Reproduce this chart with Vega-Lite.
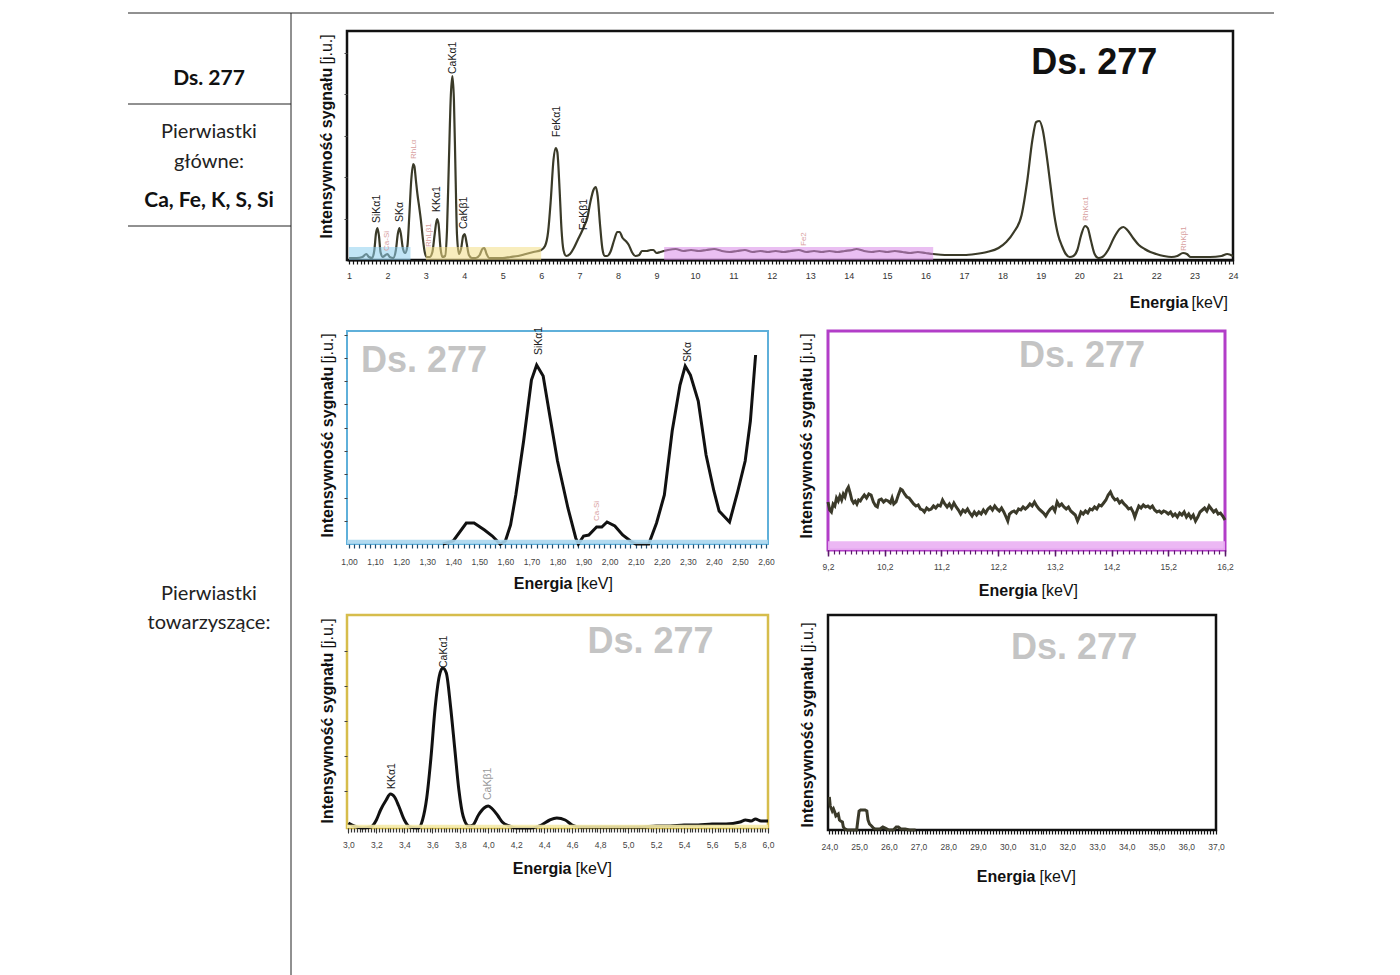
{
"$schema": "https://vega.github.io/schema/vega-lite/v6.json",
"padding": {"left": 127, "top": 12, "right": 0, "bottom": 0},
"background": "white",
"config": {"view": {"stroke": null}, "font": "Liberation Sans", "axis": {"grid": false}},
"bounds": "flush",
"spacing": 60,
"datasets": {
"tlines": [{"x1":127,"x2":1273,"y1":12,"y2":12},{"x1":127,"x2":290,"y1":103,"y2":103},{"x1":127,"x2":290,"y1":225,"y2":225},{"x1":290,"x2":290,"y1":12,"y2":975}],
"ttext": [{"x":208,"y":78,"t":"Ds. 277","role":"head"},{"x":208,"y":131,"t":"Pierwiastki","role":"body"},{"x":208,"y":161,"t":"główne:","role":"body"},{"x":208,"y":200,"t":"Ca, Fe, K, S, Si","role":"head"},{"x":208,"y":593,"t":"Pierwiastki","role":"body"},{"x":208,"y":622,"t":"towarzyszące:","role":"body"}],
"bands": [{"panel":"top","band":"blue","e0":1.0,"e1":2.6,"i0":0,"i1":13},{"panel":"top","band":"yellow","e0":3.0,"e1":6.0,"i0":0,"i1":13},{"panel":"top","band":"purple","e0":9.2,"e1":16.2,"i0":0,"i1":13},{"panel":"blue","band":"blue","e0":0.9924,"e1":2.6076,"i0":0,"i1":4.3},{"panel":"purple","band":"purple","e0":9.2,"e1":16.2,"i0":0,"i1":8.7},{"panel":"yellow","band":"yellow","e0":2.99,"e1":6.0,"i0":0,"i1":3.3},{"panel":"black","band":"none","e0":24,"e1":37,"i0":0,"i1":0}],
"labels": [{"panel":"top","e":1.73,"i":37,"t":"SiKα1","c":"k"},{"panel":"top","e":1.98,"i":9,"t":"Ca-Si","c":"p"},{"panel":"top","e":2.33,"i":38,"t":"SKα","c":"k"},{"panel":"top","e":2.69,"i":101,"t":"RhLα","c":"p"},{"panel":"top","e":3.08,"i":13,"t":"RhLβ1","c":"p"},{"panel":"top","e":3.29,"i":48,"t":"KKα1","c":"k"},{"panel":"top","e":3.71,"i":186,"t":"CaKα1","c":"k"},{"panel":"top","e":4.0,"i":31,"t":"CaKβ1","c":"k"},{"panel":"top","e":6.41,"i":123,"t":"FeKα1","c":"k"},{"panel":"top","e":7.11,"i":30,"t":"FeKβ1","c":"k"},{"panel":"top","e":12.84,"i":14,"t":"Fe2","c":"p"},{"panel":"top","e":20.18,"i":39,"t":"RhKα1","c":"p"},{"panel":"top","e":22.73,"i":9,"t":"RhKβ1","c":"p"},{"panel":"blue","e":1.73,"i":189,"t":"SiKα1","c":"k"},{"panel":"blue","e":1.95,"i":23,"t":"Ca-Si","c":"p"},{"panel":"blue","e":2.30,"i":182,"t":"SKα","c":"k"},{"panel":"yellow","e":3.31,"i":39,"t":"KKα1","c":"k"},{"panel":"yellow","e":3.68,"i":160,"t":"CaKα1","c":"k"},{"panel":"yellow","e":4.0,"i":28,"t":"CaKβ1","c":"g"}],
"wm": [{"panel":"top","e":20.39,"i":197,"t":"Ds. 277"},{"panel":"blue","e":1.288,"i":183,"t":"Ds. 277"},{"panel":"purple","e":13.68,"i":194,"t":"Ds. 277"},{"panel":"yellow","e":5.16,"i":186,"t":"Ds. 277"},{"panel":"black","e":32.23,"i":182,"t":"Ds. 277"}],
"spec_top": [{"e":1.00,"i":2},{"e":1.20,"i":2},{"e":1.35,"i":3},{"e":1.45,"i":6},{"e":1.52,"i":3},{"e":1.60,"i":2},{"e":1.66,"i":10},{"e":1.70,"i":26},{"e":1.74,"i":32},{"e":1.78,"i":24},{"e":1.82,"i":8},{"e":1.88,"i":3},{"e":1.95,"i":5},{"e":2.00,"i":6},{"e":2.06,"i":3},{"e":2.15,"i":2},{"e":2.22,"i":10},{"e":2.27,"i":26},{"e":2.31,"i":32},{"e":2.35,"i":26},{"e":2.40,"i":12},{"e":2.46,"i":7},{"e":2.52,"i":14},{"e":2.57,"i":45},{"e":2.62,"i":80},{"e":2.67,"i":96},{"e":2.70,"i":94},{"e":2.74,"i":80},{"e":2.78,"i":66},{"e":2.83,"i":52},{"e":2.87,"i":40},{"e":2.92,"i":22},{"e":2.97,"i":8},{"e":3.02,"i":3},{"e":3.10,"i":3},{"e":3.17,"i":8},{"e":3.23,"i":26},{"e":3.29,"i":41},{"e":3.33,"i":36},{"e":3.38,"i":12},{"e":3.43,"i":3},{"e":3.50,"i":4},{"e":3.55,"i":30},{"e":3.60,"i":100},{"e":3.65,"i":165},{"e":3.69,"i":184},{"e":3.73,"i":160},{"e":3.77,"i":90},{"e":3.81,"i":25},{"e":3.86,"i":6},{"e":3.92,"i":12},{"e":3.97,"i":24},{"e":4.01,"i":26},{"e":4.06,"i":17},{"e":4.12,"i":5},{"e":4.20,"i":2},{"e":4.30,"i":2},{"e":4.40,"i":5},{"e":4.47,"i":11},{"e":4.52,"i":12},{"e":4.58,"i":6},{"e":4.65,"i":2},{"e":4.80,"i":2},{"e":5.00,"i":2},{"e":5.20,"i":3},{"e":5.40,"i":4},{"e":5.60,"i":6},{"e":5.80,"i":8},{"e":6.00,"i":10},{"e":6.10,"i":14},{"e":6.18,"i":28},{"e":6.25,"i":60},{"e":6.32,"i":100},{"e":6.38,"i":112},{"e":6.42,"i":108},{"e":6.48,"i":70},{"e":6.53,"i":30},{"e":6.58,"i":10},{"e":6.65,"i":4},{"e":6.75,"i":6},{"e":6.85,"i":12},{"e":6.95,"i":20},{"e":7.04,"i":27},{"e":7.12,"i":34},{"e":7.20,"i":42},{"e":7.28,"i":58},{"e":7.36,"i":70},{"e":7.42,"i":73},{"e":7.47,"i":64},{"e":7.53,"i":36},{"e":7.59,"i":12},{"e":7.65,"i":4},{"e":7.72,"i":4},{"e":7.80,"i":8},{"e":7.90,"i":20},{"e":7.98,"i":28},{"e":8.04,"i":28},{"e":8.12,"i":22},{"e":8.20,"i":19},{"e":8.28,"i":15},{"e":8.36,"i":8},{"e":8.45,"i":4},{"e":8.55,"i":5},{"e":8.62,"i":9},{"e":8.75,"i":9},{"e":8.85,"i":10},{"e":8.92,"i":10},{"e":9.00,"i":7},{"e":9.1,"i":8},{"e":9.3,"i":10},{"e":9.5,"i":11},{"e":9.7,"i":9},{"e":9.9,"i":10},{"e":10.1,"i":9},{"e":10.3,"i":10},{"e":10.5,"i":11},{"e":10.7,"i":9},{"e":10.9,"i":8},{"e":11.1,"i":9},{"e":11.3,"i":10},{"e":11.5,"i":8},{"e":11.7,"i":9},{"e":11.9,"i":8},{"e":12.1,"i":9},{"e":12.3,"i":8},{"e":12.5,"i":9},{"e":12.7,"i":10},{"e":12.9,"i":8},{"e":13.1,"i":9},{"e":13.3,"i":8},{"e":13.5,"i":9},{"e":13.7,"i":8},{"e":13.9,"i":9},{"e":14.1,"i":10},{"e":14.2,"i":11},{"e":14.4,"i":9},{"e":14.6,"i":8},{"e":14.8,"i":9},{"e":15.0,"i":8},{"e":15.2,"i":9},{"e":15.4,"i":8},{"e":15.6,"i":7},{"e":15.8,"i":8},{"e":16.0,"i":7},{"e":16.2,"i":6},{"e":16.5,"i":5},{"e":16.8,"i":5},{"e":17.0,"i":5},{"e":17.3,"i":6},{"e":17.6,"i":8},{"e":17.9,"i":12},{"e":18.1,"i":18},{"e":18.3,"i":28},{"e":18.5,"i":45},{"e":18.65,"i":80},{"e":18.78,"i":120},{"e":18.88,"i":138},{"e":18.96,"i":139},{"e":19.05,"i":130},{"e":19.15,"i":105},{"e":19.25,"i":75},{"e":19.35,"i":45},{"e":19.45,"i":25},{"e":19.55,"i":14},{"e":19.65,"i":6},{"e":19.75,"i":3},{"e":19.85,"i":4},{"e":19.95,"i":10},{"e":20.05,"i":25},{"e":20.15,"i":34},{"e":20.22,"i":32},{"e":20.3,"i":20},{"e":20.4,"i":6},{"e":20.5,"i":2},{"e":20.6,"i":3},{"e":20.75,"i":10},{"e":20.9,"i":22},{"e":21.05,"i":31},{"e":21.15,"i":33},{"e":21.25,"i":30},{"e":21.4,"i":22},{"e":21.55,"i":15},{"e":21.7,"i":11},{"e":21.85,"i":8},{"e":22.0,"i":6},{"e":22.2,"i":4},{"e":22.4,"i":3},{"e":22.55,"i":4},{"e":22.7,"i":7},{"e":22.8,"i":6},{"e":22.9,"i":3},{"e":23.1,"i":3},{"e":23.4,"i":3},{"e":23.7,"i":4},{"e":23.85,"i":6},{"e":24.0,"i":4}],
"spec_blue": [{"e":1.36,"i":0},{"e":1.40,"i":3},{"e":1.45,"i":21},{"e":1.48,"i":21},{"e":1.52,"i":14},{"e":1.55,"i":8},{"e":1.58,"i":0},{"e":1.60,"i":3},{"e":1.62,"i":19},{"e":1.64,"i":49},{"e":1.67,"i":103},{"e":1.70,"i":164},{"e":1.72,"i":179},{"e":1.745,"i":168},{"e":1.77,"i":129},{"e":1.80,"i":83},{"e":1.84,"i":36},{"e":1.87,"i":6},{"e":1.88,"i":0},{"e":1.90,"i":8},{"e":1.92,"i":9},{"e":1.95,"i":17},{"e":1.97,"i":17},{"e":1.99,"i":22},{"e":2.02,"i":18},{"e":2.05,"i":9},{"e":2.08,"i":3},{"e":2.10,"i":0},{"e":2.15,"i":0},{"e":2.18,"i":21},{"e":2.21,"i":49},{"e":2.24,"i":113},{"e":2.27,"i":159},{"e":2.29,"i":178},{"e":2.31,"i":169},{"e":2.34,"i":143},{"e":2.37,"i":89},{"e":2.40,"i":53},{"e":2.42,"i":33},{"e":2.46,"i":22},{"e":2.49,"i":51},{"e":2.52,"i":83},{"e":2.54,"i":123},{"e":2.56,"i":189}],
"spec_purple": [{"e":9.20,"i":48},{"e":9.23,"i":40},{"e":9.26,"i":38},{"e":9.29,"i":46},{"e":9.32,"i":44},{"e":9.35,"i":52},{"e":9.38,"i":49},{"e":9.41,"i":54},{"e":9.44,"i":50},{"e":9.47,"i":56},{"e":9.50,"i":53},{"e":9.53,"i":60},{"e":9.56,"i":63},{"e":9.59,"i":57},{"e":9.62,"i":50},{"e":9.65,"i":47},{"e":9.68,"i":49},{"e":9.71,"i":46},{"e":9.74,"i":50},{"e":9.77,"i":49},{"e":9.80,"i":52},{"e":9.84,"i":55},{"e":9.88,"i":52},{"e":9.92,"i":56},{"e":9.96,"i":55},{"e":10.00,"i":48},{"e":10.04,"i":44},{"e":10.07,"i":43},{"e":10.10,"i":50},{"e":10.14,"i":51},{"e":10.18,"i":48},{"e":10.22,"i":50},{"e":10.26,"i":49},{"e":10.30,"i":47},{"e":10.33,"i":52},{"e":10.36,"i":46},{"e":10.40,"i":48},{"e":10.44,"i":55},{"e":10.48,"i":61},{"e":10.51,"i":60},{"e":10.55,"i":56},{"e":10.59,"i":53},{"e":10.63,"i":52},{"e":10.67,"i":49},{"e":10.71,"i":46},{"e":10.75,"i":44},{"e":10.79,"i":45},{"e":10.83,"i":41},{"e":10.87,"i":40},{"e":10.90,"i":38},{"e":10.94,"i":42},{"e":10.98,"i":40},{"e":11.02,"i":41},{"e":11.06,"i":44},{"e":11.10,"i":42},{"e":11.14,"i":45},{"e":11.18,"i":44},{"e":11.22,"i":50},{"e":11.26,"i":46},{"e":11.30,"i":43},{"e":11.34,"i":46},{"e":11.38,"i":42},{"e":11.42,"i":47},{"e":11.46,"i":43},{"e":11.50,"i":40},{"e":11.54,"i":36},{"e":11.58,"i":40},{"e":11.62,"i":38},{"e":11.66,"i":41},{"e":11.70,"i":37},{"e":11.74,"i":34},{"e":11.78,"i":38},{"e":11.82,"i":35},{"e":11.86,"i":38},{"e":11.90,"i":36},{"e":11.94,"i":40},{"e":11.98,"i":37},{"e":12.02,"i":41},{"e":12.06,"i":43},{"e":12.10,"i":40},{"e":12.14,"i":44},{"e":12.18,"i":41},{"e":12.22,"i":39},{"e":12.26,"i":42},{"e":12.30,"i":38},{"e":12.34,"i":33},{"e":12.37,"i":29},{"e":12.40,"i":36},{"e":12.44,"i":38},{"e":12.48,"i":39},{"e":12.52,"i":37},{"e":12.56,"i":41},{"e":12.60,"i":40},{"e":12.64,"i":43},{"e":12.68,"i":41},{"e":12.72,"i":43},{"e":12.76,"i":46},{"e":12.80,"i":44},{"e":12.84,"i":48},{"e":12.88,"i":44},{"e":12.92,"i":41},{"e":12.96,"i":39},{"e":13.00,"i":37},{"e":13.04,"i":34},{"e":13.08,"i":38},{"e":13.12,"i":41},{"e":13.16,"i":43},{"e":13.20,"i":39},{"e":13.24,"i":48},{"e":13.28,"i":44},{"e":13.32,"i":46},{"e":13.36,"i":43},{"e":13.40,"i":41},{"e":13.44,"i":43},{"e":13.48,"i":39},{"e":13.52,"i":37},{"e":13.56,"i":35},{"e":13.60,"i":29},{"e":13.63,"i":33},{"e":13.66,"i":38},{"e":13.70,"i":36},{"e":13.74,"i":39},{"e":13.78,"i":37},{"e":13.82,"i":41},{"e":13.86,"i":40},{"e":13.90,"i":43},{"e":13.94,"i":41},{"e":13.98,"i":45},{"e":14.02,"i":44},{"e":14.06,"i":47},{"e":14.10,"i":50},{"e":14.14,"i":55},{"e":14.18,"i":58},{"e":14.22,"i":53},{"e":14.26,"i":50},{"e":14.30,"i":51},{"e":14.34,"i":47},{"e":14.38,"i":49},{"e":14.42,"i":46},{"e":14.46,"i":44},{"e":14.50,"i":41},{"e":14.54,"i":42},{"e":14.58,"i":38},{"e":14.61,"i":33},{"e":14.64,"i":38},{"e":14.68,"i":44},{"e":14.72,"i":42},{"e":14.76,"i":45},{"e":14.80,"i":43},{"e":14.84,"i":44},{"e":14.88,"i":42},{"e":14.92,"i":44},{"e":14.96,"i":40},{"e":15.00,"i":38},{"e":15.04,"i":39},{"e":15.08,"i":37},{"e":15.12,"i":39},{"e":15.16,"i":38},{"e":15.20,"i":36},{"e":15.24,"i":38},{"e":15.28,"i":34},{"e":15.32,"i":36},{"e":15.36,"i":33},{"e":15.40,"i":37},{"e":15.44,"i":35},{"e":15.48,"i":38},{"e":15.52,"i":33},{"e":15.56,"i":36},{"e":15.60,"i":32},{"e":15.64,"i":35},{"e":15.68,"i":29},{"e":15.72,"i":33},{"e":15.76,"i":38},{"e":15.80,"i":40},{"e":15.84,"i":42},{"e":15.88,"i":39},{"e":15.92,"i":44},{"e":15.96,"i":41},{"e":16.00,"i":38},{"e":16.04,"i":40},{"e":16.08,"i":36},{"e":16.12,"i":37},{"e":16.16,"i":34},{"e":16.20,"i":30}],
"spec_yellow": [{"e":3.00,"i":5},{"e":3.04,"i":2},{"e":3.10,"i":0},{"e":3.16,"i":1},{"e":3.20,"i":8},{"e":3.23,"i":18},{"e":3.27,"i":28},{"e":3.30,"i":34},{"e":3.33,"i":31},{"e":3.36,"i":22},{"e":3.40,"i":8},{"e":3.44,"i":1},{"e":3.50,"i":0},{"e":3.53,"i":8},{"e":3.56,"i":30},{"e":3.59,"i":70},{"e":3.62,"i":120},{"e":3.65,"i":152},{"e":3.675,"i":160},{"e":3.70,"i":155},{"e":3.73,"i":122},{"e":3.76,"i":80},{"e":3.79,"i":38},{"e":3.82,"i":12},{"e":3.86,"i":2},{"e":3.89,"i":3},{"e":3.93,"i":13},{"e":3.97,"i":20},{"e":4.00,"i":22},{"e":4.03,"i":19},{"e":4.07,"i":12},{"e":4.10,"i":6},{"e":4.15,"i":2},{"e":4.20,"i":0},{"e":4.30,"i":0},{"e":4.38,"i":3},{"e":4.44,"i":8},{"e":4.49,"i":10},{"e":4.55,"i":8},{"e":4.60,"i":3},{"e":4.66,"i":1},{"e":4.8,"i":1},{"e":5.0,"i":1},{"e":5.1,"i":1},{"e":5.2,"i":2},{"e":5.3,"i":2},{"e":5.4,"i":3},{"e":5.5,"i":3},{"e":5.6,"i":4},{"e":5.7,"i":4},{"e":5.8,"i":6},{"e":5.84,"i":8},{"e":5.88,"i":7},{"e":5.91,"i":9},{"e":5.95,"i":7},{"e":6.00,"i":7}],
"spec_black": [{"e":24.00,"i":33},{"e":24.03,"i":24},{"e":24.06,"i":22},{"e":24.10,"i":19},{"e":24.14,"i":21},{"e":24.18,"i":18},{"e":24.22,"i":14},{"e":24.26,"i":15},{"e":24.30,"i":16},{"e":24.34,"i":10},{"e":24.38,"i":9},{"e":24.44,"i":8},{"e":24.47,"i":3},{"e":24.52,"i":1},{"e":24.6,"i":0},{"e":24.8,"i":0},{"e":24.92,"i":0},{"e":24.96,"i":10},{"e":25.00,"i":19},{"e":25.05,"i":20},{"e":25.12,"i":20},{"e":25.2,"i":20},{"e":25.26,"i":19},{"e":25.3,"i":10},{"e":25.35,"i":6},{"e":25.42,"i":4},{"e":25.48,"i":2},{"e":25.55,"i":1},{"e":25.7,"i":1},{"e":25.8,"i":3},{"e":25.88,"i":2},{"e":26.0,"i":0},{"e":26.15,"i":0},{"e":26.25,"i":3},{"e":26.32,"i":3},{"e":26.4,"i":1},{"e":26.55,"i":1},{"e":26.7,"i":0},{"e":26.9,"i":0}]
},
"hconcat": [
{
"width": 159, "height": 229,
"layer": [
{"data": {"name": "tlines"}, "mark": {"type": "rule", "color": "#222", "strokeWidth": 1},
 "encoding": {"x": {"field": "x1", "type": "quantitative", "scale": {"domain": [127, 286], "nice": false, "zero": false}, "axis": null},
  "x2": {"field": "x2"},
  "y": {"field": "y1", "type": "quantitative", "scale": {"domain": [30, 259], "reverse": true, "nice": false, "zero": false}, "axis": null},
  "y2": {"field": "y2"}}},
{"data": {"name": "ttext"}, "transform": [{"filter": "datum.role == 'body'"}],
 "mark": {"type": "text", "font": "Lato", "fontSize": 20, "color": "#222", "align": "center", "baseline": "middle"},
 "encoding": {"x": {"field": "x", "type": "quantitative", "scale": {"domain": [127, 286], "nice": false, "zero": false}, "axis": null},
  "y": {"field": "y", "type": "quantitative", "scale": {"domain": [30, 259], "reverse": true, "nice": false, "zero": false}, "axis": null},
  "text": {"field": "t"}}},
{"data": {"name": "ttext"}, "transform": [{"filter": "datum.role == 'head'"}],
 "mark": {"type": "text", "font": "Lato", "fontSize": 21, "fontWeight": "bold", "color": "#111", "align": "center", "baseline": "middle"},
 "encoding": {"x": {"field": "x", "type": "quantitative", "scale": {"domain": [127, 286], "nice": false, "zero": false}, "axis": null},
  "y": {"field": "y", "type": "quantitative", "scale": {"domain": [30, 259], "reverse": true, "nice": false, "zero": false}, "axis": null},
  "text": {"field": "t"}}}
]
},
{
"bounds": "flush",
"spacing": 71,
"vconcat": [
{
"width": 886, "height": 229,
"view": {"stroke": "#111", "strokeWidth": 2.5},
"resolve": {"axis": {"x": "independent", "y": "independent"}, "scale": {"color": "independent"}},
"layer": [
{"data": {"name": "spec_top"},
 "mark": {"type": "line", "color": "#3a3a28", "strokeWidth": 2.2, "interpolate": "monotone"},
 "encoding": {
  "x": {"field": "e", "type": "quantitative", "scale": {"domain": [0.948, 24], "nice": false, "zero": false},
   "axis": {"orient": "bottom", "values": [1,2,3,4,5,6,7,8,9,10,11,12,13,14,15,16,17,18,19,20,21,22,23,24], "format": "d", "ticks": false, "domain": false, "labelFont": "Liberation Sans", "labelFontSize": 9, "labelColor": "#333", "labelPadding": 11, "labelFlush": false, "labelOverlap": false,
    "title": "Energia", "titleFont": "Liberation Sans", "titleFontSize": 16, "titleFontWeight": "bold", "titleColor": "#111", "titleX": 841, "titleY": 47, "titleAlign": "right", "titleBaseline": "alphabetic"}},
  "y": {"field": "i", "type": "quantitative", "scale": {"domain": [0, 229], "nice": false, "zero": false},
   "axis": {"orient": "left", "values": [41,83,124,166,207], "labels": false, "domain": false, "tickSize": 3, "tickColor": "#444", "tickWidth": 1,
    "title": "Intensywność sygnału", "titleFont": "Liberation Sans", "titleFontSize": 16, "titleFontWeight": "bold", "titleColor": "#111", "titleAngle": 270, "titleX": -13, "titleY": 207, "titleAlign": "left", "titleBaseline": "bottom"}}}},
{"data": {"name": "bands"}, "transform": [{"filter": "datum.panel == 'top'"}],
 "mark": {"type": "rect", "opacity": 0.55},
 "encoding": {
  "x": {"field": "e0", "type": "quantitative", "scale": {"domain": [0.948, 24], "nice": false, "zero": false},
   "axis": {"orient": "bottom", "tickCount": 230, "labels": false, "domain": true, "domainColor": "#111", "domainWidth": 2, "tickSize": 4, "tickWidth": 1.2, "tickColor": "#111",
    "title": "[keV]", "titleFont": "Liberation Sans", "titleFontSize": 16, "titleFontWeight": "normal", "titleColor": "#111", "titleX": 844, "titleY": 47, "titleAlign": "left", "titleBaseline": "alphabetic"}},
  "x2": {"field": "e1"},
  "y": {"field": "i0", "type": "quantitative", "scale": {"domain": [0, 229], "nice": false, "zero": false},
   "axis": {"orient": "left", "ticks": false, "labels": false, "domain": false, "title": "[j.u.]", "titleFont": "Liberation Sans", "titleFontSize": 16, "titleFontWeight": "normal", "titleColor": "#111", "titleAngle": 270, "titleX": -13, "titleY": 33, "titleAlign": "left", "titleBaseline": "bottom"}},
  "y2": {"field": "i1"},
  "color": {"field": "band", "type": "nominal", "scale": {"domain": ["blue","yellow","purple","none"], "range": ["#8ed0ef","#f3de86","#d98be8","#ffffff"]}, "legend": null}}},
{"data": {"name": "labels"}, "transform": [{"filter": "datum.panel == 'top'"}],
 "mark": {"type": "text", "angle": 270, "align": "left", "baseline": "middle", "font": "Liberation Sans"},
 "encoding": {
  "x": {"field": "e", "type": "quantitative", "scale": {"domain": [0.948, 24], "nice": false, "zero": false}, "axis": null},
  "y": {"field": "i", "type": "quantitative", "scale": {"domain": [0, 229], "nice": false, "zero": false}, "axis": null},
  "text": {"field": "t"},
  "color": {"field": "c", "type": "nominal", "scale": {"domain": ["k","p","g"], "range": ["#222222","#d8a0a0","#9a9a9a"]}, "legend": null},
  "size": {"field": "c", "type": "nominal", "scale": {"type": "ordinal", "domain": ["k","p","g"], "range": [10.5, 8, 10.5]}, "legend": null}}},
{"data": {"name": "wm"}, "transform": [{"filter": "datum.panel == 'top'"}],
 "mark": {"type": "text", "font": "Liberation Sans", "fontWeight": "bold", "fontSize": 36, "color": "#111", "align": "center", "baseline": "middle"},
 "encoding": {
  "x": {"field": "e", "type": "quantitative", "scale": {"domain": [0.948, 24], "nice": false, "zero": false}, "axis": null},
  "y": {"field": "i", "type": "quantitative", "scale": {"domain": [0, 229], "nice": false, "zero": false}, "axis": null},
  "text": {"field": "t"}}}
]
},
{
"bounds": "flush",
"spacing": 60,
"hconcat": [
{
"width": 421, "height": 213,
"view": {"stroke": "#5fb0da", "strokeWidth": 2},
"resolve": {"axis": {"x": "independent", "y": "independent"}, "scale": {"color": "independent"}},
"layer": [
{"data": {"name": "spec_blue"},
 "mark": {"type": "line", "color": "#111", "strokeWidth": 3, "interpolate": "linear"},
 "encoding": {
  "x": {"field": "e", "type": "quantitative", "scale": {"domain": [0.9924, 2.6076], "nice": false, "zero": false},
   "axis": {"orient": "bottom", "values": [1.0,1.1,1.2,1.3,1.4,1.5,1.6,1.7,1.8,1.9,2.0,2.1,2.2,2.3,2.4,2.5,2.6], "labelExpr": "replace(format(datum.value, '.2f'), '.', ',')", "ticks": false, "domain": false, "labelFont": "Liberation Sans", "labelFontSize": 8.5, "labelColor": "#444", "labelPadding": 13, "labelFlush": false, "labelOverlap": false,
    "title": "Energia", "titleFont": "Liberation Sans", "titleFontSize": 16, "titleFontWeight": "bold", "titleColor": "#111", "titleX": 225, "titleY": 44, "titleAlign": "right", "titleBaseline": "alphabetic"}},
  "y": {"field": "i", "type": "quantitative", "scale": {"domain": [0, 213], "nice": false, "zero": false},
   "axis": {"orient": "left", "values": [23,46,70,93,116,140,163,186,209], "labels": false, "domain": false, "tickSize": 3, "tickColor": "#444",
    "title": "Intensywność sygnału", "titleFont": "Liberation Sans", "titleFontSize": 16, "titleFontWeight": "bold", "titleColor": "#111", "titleAngle": 270, "titleX": -12, "titleY": 206, "titleAlign": "left", "titleBaseline": "bottom"}}}},
{"data": {"name": "bands"}, "transform": [{"filter": "datum.panel == 'blue'"}],
 "mark": {"type": "rect", "opacity": 0.9},
 "encoding": {
  "x": {"field": "e0", "type": "quantitative", "scale": {"domain": [0.9924, 2.6076], "nice": false, "zero": false},
   "axis": {"orient": "bottom", "tickCount": 80, "labels": false, "domain": false, "tickSize": 4, "tickWidth": 1.2, "tickColor": "#1f4d6e",
    "title": "[keV]", "titleFont": "Liberation Sans", "titleFontSize": 16, "titleFontWeight": "normal", "titleColor": "#111", "titleX": 229, "titleY": 44, "titleAlign": "left", "titleBaseline": "alphabetic"}},
  "x2": {"field": "e1"},
  "y": {"field": "i0", "type": "quantitative", "scale": {"domain": [0, 213], "nice": false, "zero": false},
   "axis": {"orient": "left", "ticks": false, "labels": false, "domain": false, "title": "[j.u.]", "titleFont": "Liberation Sans", "titleFontSize": 16, "titleFontWeight": "normal", "titleColor": "#111", "titleAngle": 270, "titleX": -12, "titleY": 32, "titleAlign": "left", "titleBaseline": "bottom"}},
  "y2": {"field": "i1"},
  "color": {"field": "band", "type": "nominal", "scale": {"domain": ["blue","yellow","purple","none"], "range": ["#a9d6ee","#f5eaa8","#eab0f3","#ffffff"]}, "legend": null}}},
{"data": {"name": "labels"}, "transform": [{"filter": "datum.panel == 'blue'"}],
 "mark": {"type": "text", "angle": 270, "align": "left", "baseline": "middle", "font": "Liberation Sans"},
 "encoding": {
  "x": {"field": "e", "type": "quantitative", "scale": {"domain": [0.9924, 2.6076], "nice": false, "zero": false}, "axis": null},
  "y": {"field": "i", "type": "quantitative", "scale": {"domain": [0, 213], "nice": false, "zero": false}, "axis": null},
  "text": {"field": "t"},
  "color": {"field": "c", "type": "nominal", "scale": {"domain": ["k","p","g"], "range": ["#222222","#d8a0a0","#9a9a9a"]}, "legend": null},
  "size": {"field": "c", "type": "nominal", "scale": {"type": "ordinal", "domain": ["k","p","g"], "range": [12, 10, 12]}, "legend": null}}},
{"data": {"name": "wm"}, "transform": [{"filter": "datum.panel == 'blue'"}],
 "mark": {"type": "text", "font": "Liberation Sans", "fontWeight": "bold", "fontSize": 36, "color": "#c4c4c4", "align": "center", "baseline": "middle"},
 "encoding": {
  "x": {"field": "e", "type": "quantitative", "scale": {"domain": [0.9924, 2.6076], "nice": false, "zero": false}, "axis": null},
  "y": {"field": "i", "type": "quantitative", "scale": {"domain": [0, 213], "nice": false, "zero": false}, "axis": null},
  "text": {"field": "t"}}}
]
},
{
"width": 397, "height": 219,
"view": {"stroke": "#b23ec8", "strokeWidth": 3},
"resolve": {"axis": {"x": "independent", "y": "independent"}, "scale": {"color": "independent"}},
"layer": [
{"data": {"name": "spec_purple"},
 "mark": {"type": "line", "color": "#3b3a2a", "strokeWidth": 3, "interpolate": "linear"},
 "encoding": {
  "x": {"field": "e", "type": "quantitative", "scale": {"domain": [9.2, 16.2], "nice": false, "zero": false},
   "axis": {"orient": "bottom", "values": [9.2,10.2,11.2,12.2,13.2,14.2,15.2,16.2], "labelExpr": "replace(format(datum.value, '.1f'), '.', ',')", "ticks": true, "tickSize": 6, "tickWidth": 1.5, "tickColor": "#5a1a6a", "domain": false, "labelFont": "Liberation Sans", "labelFontSize": 8.5, "labelColor": "#444", "labelPadding": 6, "labelFlush": false, "labelOverlap": false,
    "title": "Energia", "titleFont": "Liberation Sans", "titleFontSize": 16, "titleFontWeight": "bold", "titleColor": "#111", "titleX": 209, "titleY": 45, "titleAlign": "right", "titleBaseline": "alphabetic"}},
  "y": {"field": "i", "type": "quantitative", "scale": {"domain": [0, 219], "nice": false, "zero": false},
   "axis": {"orient": "left", "ticks": false, "labels": false, "domain": false,
    "title": "Intensywność sygnału", "titleFont": "Liberation Sans", "titleFontSize": 16, "titleFontWeight": "bold", "titleColor": "#111", "titleAngle": 270, "titleX": -14, "titleY": 207, "titleAlign": "left", "titleBaseline": "bottom"}}}},
{"data": {"name": "bands"}, "transform": [{"filter": "datum.panel == 'purple'"}],
 "mark": {"type": "rect", "opacity": 0.9},
 "encoding": {
  "x": {"field": "e0", "type": "quantitative", "scale": {"domain": [9.2, 16.2], "nice": false, "zero": false},
   "axis": {"orient": "bottom", "tickCount": 70, "labels": false, "domain": false, "tickSize": 4, "tickWidth": 1.2, "tickColor": "#5a1a6a",
    "title": "[keV]", "titleFont": "Liberation Sans", "titleFontSize": 16, "titleFontWeight": "normal", "titleColor": "#111", "titleX": 213, "titleY": 45, "titleAlign": "left", "titleBaseline": "alphabetic"}},
  "x2": {"field": "e1"},
  "y": {"field": "i0", "type": "quantitative", "scale": {"domain": [0, 219], "nice": false, "zero": false},
   "axis": {"orient": "left", "ticks": false, "labels": false, "domain": false, "title": "[j.u.]", "titleFont": "Liberation Sans", "titleFontSize": 16, "titleFontWeight": "normal", "titleColor": "#111", "titleAngle": 270, "titleX": -14, "titleY": 32, "titleAlign": "left", "titleBaseline": "bottom"}},
  "y2": {"field": "i1"},
  "color": {"field": "band", "type": "nominal", "scale": {"domain": ["blue","yellow","purple","none"], "range": ["#a9d6ee","#f5eaa8","#eab0f3","#ffffff"]}, "legend": null}}},
{"data": {"name": "wm"}, "transform": [{"filter": "datum.panel == 'purple'"}],
 "mark": {"type": "text", "font": "Liberation Sans", "fontWeight": "bold", "fontSize": 36, "color": "#c4c4c4", "align": "center", "baseline": "middle"},
 "encoding": {
  "x": {"field": "e", "type": "quantitative", "scale": {"domain": [9.2, 16.2], "nice": false, "zero": false}, "axis": null},
  "y": {"field": "i", "type": "quantitative", "scale": {"domain": [0, 219], "nice": false, "zero": false}, "axis": null},
  "text": {"field": "t"}}}
]
}
]
},
{"width": 1, "height": 142, "data": {"values": [{"a": 1}]}, "mark": {"type": "text"}, "encoding": {"text": {"value": ""}}},
{
"bounds": "flush",
"spacing": 60,
"hconcat": [
{
"width": 421, "height": 213,
"view": {"stroke": "#d6bd4c", "strokeWidth": 2.5},
"resolve": {"axis": {"x": "independent", "y": "independent"}, "scale": {"color": "independent"}},
"layer": [
{"data": {"name": "spec_yellow"},
 "mark": {"type": "line", "color": "#111", "strokeWidth": 3, "interpolate": "monotone"},
 "encoding": {
  "x": {"field": "e", "type": "quantitative", "scale": {"domain": [2.99, 6.0], "nice": false, "zero": false},
   "axis": {"orient": "bottom", "values": [3.0,3.2,3.4,3.6,3.8,4.0,4.2,4.4,4.6,4.8,5.0,5.2,5.4,5.6,5.8,6.0], "labelExpr": "replace(format(datum.value, '.1f'), '.', ',')", "ticks": true, "tickSize": 5, "tickColor": "#333", "domain": false, "labelFont": "Liberation Sans", "labelFontSize": 8.5, "labelColor": "#444", "labelPadding": 7, "labelFlush": false, "labelOverlap": false,
    "title": "Energia", "titleFont": "Liberation Sans", "titleFontSize": 16, "titleFontWeight": "bold", "titleColor": "#111", "titleX": 224, "titleY": 45, "titleAlign": "right", "titleBaseline": "alphabetic"}},
  "y": {"field": "i", "type": "quantitative", "scale": {"domain": [0, 213], "nice": false, "zero": false},
   "axis": {"orient": "left", "values": [37,72,107,142,177], "labels": false, "domain": false, "tickSize": 3, "tickColor": "#444",
    "title": "Intensywność sygnału", "titleFont": "Liberation Sans", "titleFontSize": 16, "titleFontWeight": "bold", "titleColor": "#111", "titleAngle": 270, "titleX": -12, "titleY": 208, "titleAlign": "left", "titleBaseline": "bottom"}}}},
{"data": {"name": "bands"}, "transform": [{"filter": "datum.panel == 'yellow'"}],
 "mark": {"type": "rect", "opacity": 0.9},
 "encoding": {
  "x": {"field": "e0", "type": "quantitative", "scale": {"domain": [2.99, 6.0], "nice": false, "zero": false},
   "axis": {"orient": "bottom", "tickCount": 150, "labels": false, "domain": false, "tickSize": 4, "tickWidth": 1.2, "tickColor": "#333",
    "title": "[keV]", "titleFont": "Liberation Sans", "titleFontSize": 16, "titleFontWeight": "normal", "titleColor": "#111", "titleX": 228, "titleY": 45, "titleAlign": "left", "titleBaseline": "alphabetic"}},
  "x2": {"field": "e1"},
  "y": {"field": "i0", "type": "quantitative", "scale": {"domain": [0, 213], "nice": false, "zero": false},
   "axis": {"orient": "left", "ticks": false, "labels": false, "domain": false, "title": "[j.u.]", "titleFont": "Liberation Sans", "titleFontSize": 16, "titleFontWeight": "normal", "titleColor": "#111", "titleAngle": 270, "titleX": -12, "titleY": 33, "titleAlign": "left", "titleBaseline": "bottom"}},
  "y2": {"field": "i1"},
  "color": {"field": "band", "type": "nominal", "scale": {"domain": ["blue","yellow","purple","none"], "range": ["#a9d6ee","#f5eaa8","#eab0f3","#ffffff"]}, "legend": null}}},
{"data": {"name": "labels"}, "transform": [{"filter": "datum.panel == 'yellow'"}],
 "mark": {"type": "text", "angle": 270, "align": "left", "baseline": "middle", "font": "Liberation Sans"},
 "encoding": {
  "x": {"field": "e", "type": "quantitative", "scale": {"domain": [2.99, 6.0], "nice": false, "zero": false}, "axis": null},
  "y": {"field": "i", "type": "quantitative", "scale": {"domain": [0, 213], "nice": false, "zero": false}, "axis": null},
  "text": {"field": "t"},
  "color": {"field": "c", "type": "nominal", "scale": {"domain": ["k","p","g"], "range": ["#222222","#d8a0a0","#9a9a9a"]}, "legend": null},
  "size": {"field": "c", "type": "nominal", "scale": {"type": "ordinal", "domain": ["k","p","g"], "range": [12, 10, 12]}, "legend": null}}},
{"data": {"name": "wm"}, "transform": [{"filter": "datum.panel == 'yellow'"}],
 "mark": {"type": "text", "font": "Liberation Sans", "fontWeight": "bold", "fontSize": 36, "color": "#c4c4c4", "align": "center", "baseline": "middle"},
 "encoding": {
  "x": {"field": "e", "type": "quantitative", "scale": {"domain": [2.99, 6.0], "nice": false, "zero": false}, "axis": null},
  "y": {"field": "i", "type": "quantitative", "scale": {"domain": [0, 213], "nice": false, "zero": false}, "axis": null},
  "text": {"field": "t"}}}
]
},
{
"width": 388, "height": 215,
"view": {"stroke": "#111", "strokeWidth": 2.5},
"resolve": {"axis": {"x": "independent", "y": "independent"}, "scale": {"color": "independent"}},
"layer": [
{"data": {"name": "spec_black"},
 "mark": {"type": "line", "color": "#3b3a2a", "strokeWidth": 3, "interpolate": "linear"},
 "encoding": {
  "x": {"field": "e", "type": "quantitative", "scale": {"domain": [23.955, 37], "nice": false, "zero": false},
   "axis": {"orient": "bottom", "values": [24,25,26,27,28,29,30,31,32,33,34,35,36,37], "labelExpr": "replace(format(datum.value, '.1f'), '.', ',')", "ticks": false, "domain": false, "labelFont": "Liberation Sans", "labelFontSize": 8.5, "labelColor": "#444", "labelPadding": 12, "labelFlush": false, "labelOverlap": false,
    "title": "Energia", "titleFont": "Liberation Sans", "titleFontSize": 16, "titleFontWeight": "bold", "titleColor": "#111", "titleX": 207, "titleY": 51, "titleAlign": "right", "titleBaseline": "alphabetic"}},
  "y": {"field": "i", "type": "quantitative", "scale": {"domain": [0, 215], "nice": false, "zero": false},
   "axis": {"orient": "left", "ticks": false, "labels": false, "domain": false,
    "title": "Intensywność sygnału", "titleFont": "Liberation Sans", "titleFontSize": 16, "titleFontWeight": "bold", "titleColor": "#111", "titleAngle": 270, "titleX": -13, "titleY": 212, "titleAlign": "left", "titleBaseline": "bottom"}}}},
{"data": {"name": "bands"}, "transform": [{"filter": "datum.panel == 'black'"}],
 "mark": {"type": "rect", "opacity": 0},
 "encoding": {
  "x": {"field": "e0", "type": "quantitative", "scale": {"domain": [23.955, 37], "nice": false, "zero": false},
   "axis": {"orient": "bottom", "tickCount": 130, "labels": false, "domain": false, "tickSize": 4, "tickWidth": 1.2, "tickColor": "#111",
    "title": "[keV]", "titleFont": "Liberation Sans", "titleFontSize": 16, "titleFontWeight": "normal", "titleColor": "#111", "titleX": 211, "titleY": 51, "titleAlign": "left", "titleBaseline": "alphabetic"}},
  "x2": {"field": "e1"},
  "y": {"field": "i0", "type": "quantitative", "scale": {"domain": [0, 215], "nice": false, "zero": false},
   "axis": {"orient": "left", "ticks": false, "labels": false, "domain": false, "title": "[j.u.]", "titleFont": "Liberation Sans", "titleFontSize": 16, "titleFontWeight": "normal", "titleColor": "#111", "titleAngle": 270, "titleX": -13, "titleY": 37, "titleAlign": "left", "titleBaseline": "bottom"}},
  "y2": {"field": "i1"}}},
{"data": {"name": "wm"}, "transform": [{"filter": "datum.panel == 'black'"}],
 "mark": {"type": "text", "font": "Liberation Sans", "fontWeight": "bold", "fontSize": 36, "color": "#c4c4c4", "align": "center", "baseline": "middle"},
 "encoding": {
  "x": {"field": "e", "type": "quantitative", "scale": {"domain": [23.955, 37], "nice": false, "zero": false}, "axis": null},
  "y": {"field": "i", "type": "quantitative", "scale": {"domain": [0, 215], "nice": false, "zero": false}, "axis": null},
  "text": {"field": "t"}}}
]
}
]
}
]
}
]
}
